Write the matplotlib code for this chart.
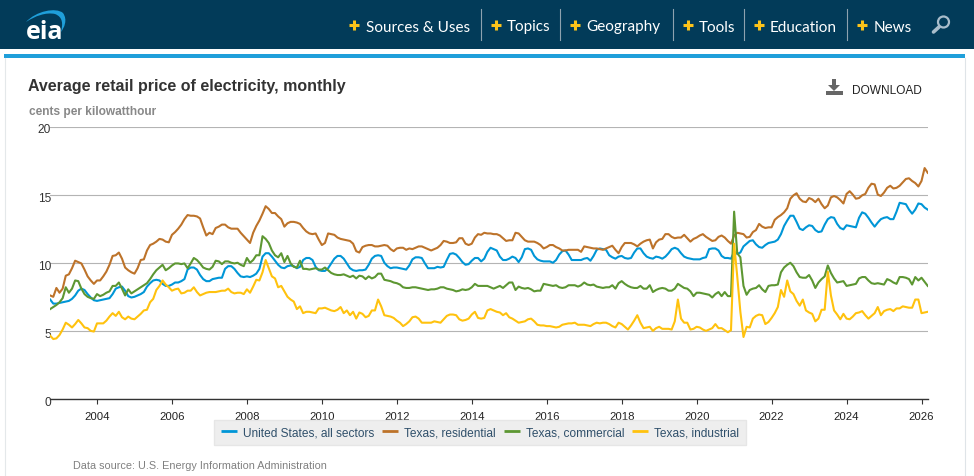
import numpy as np
import matplotlib
matplotlib.use('Agg')
import matplotlib.pyplot as plt
from matplotlib.patches import Rectangle, Polygon, Circle, PathPatch
from matplotlib.path import Path
from matplotlib.transforms import ScaledTranslation

plt.rcParams['font.family'] = ['Liberation Sans', 'DejaVu Sans']

# monthly values, cents per kWh, first point is Oct 2002
FIRST_YEAR = 2002.75

us_all = [
    7.3, 7.0, 7.0,
    7.05, 7.1, 7.15, 7.2, 7.35, 7.6, 7.95, 8.1, 8.0, 7.7, 7.45, 7.25,
    7.2, 7.25, 7.3, 7.35, 7.4, 7.7, 8.1, 8.2, 8.25, 7.95, 7.55, 7.45,
    7.5, 7.6, 7.7, 7.85, 8.25, 8.5, 8.7, 8.75, 8.7, 8.45, 8.3, 8.3,
    8.4, 8.55, 8.55, 8.65, 8.8, 9.5, 9.65, 9.65, 9.5, 9.1, 8.8, 8.65,
    8.65, 8.8, 8.85, 8.9, 8.9, 9.55, 9.75, 9.75, 9.55, 9.25, 9.0, 8.95,
    9.0, 8.95, 9.05, 9.2, 9.55, 10.45, 10.7, 10.7, 10.45, 10.15, 9.85, 9.65,
    9.6, 9.75, 9.8, 9.75, 9.6, 9.7, 10.2, 10.35, 10.35, 10.2, 9.7, 9.45,
    9.4, 9.4, 9.6, 9.95, 10.3, 10.5, 10.5, 10.3, 9.95, 9.6, 9.45, 9.4,
    9.45, 9.45, 9.5, 9.85, 10.3, 10.5, 10.55, 10.5, 10.0, 9.75, 9.6, 9.65,
    9.65, 9.6, 9.55, 9.5, 9.8, 10.25, 10.4, 10.4, 10.35, 9.95, 9.6, 9.6,
    9.6, 9.7, 9.65, 9.7, 10.2, 10.65, 10.7, 10.6, 10.35, 10.05, 9.85, 9.9,
    10.15, 10.35, 10.35, 10.1, 10.3, 10.8, 11.1, 11.0, 10.9, 10.45, 10.2, 10.2,
    10.3, 10.45, 10.35, 10.05, 10.4, 11.0, 11.05, 10.95, 10.5, 10.25, 10.15, 10.1,
    10.1, 10.1, 10.0, 10.2, 10.6, 10.85, 10.9, 10.6, 10.2, 10.2, 10.2, 10.2,
    10.3, 10.35, 10.15, 10.5, 10.95, 11.05, 11.0, 10.95, 10.55, 10.4, 10.3, 10.45,
    10.5, 10.35, 10.3, 10.35, 10.75, 11.05, 11.05, 10.7, 10.45, 10.35, 10.3, 10.45,
    10.4, 10.3, 10.45, 10.7, 11.0, 11.1, 11.0, 10.7, 10.45, 10.35, 10.3, 10.25,
    10.25, 10.25, 10.35, 10.4, 11.0, 11.05, 11.05, 10.9, 10.5, 10.35, 10.35, 10.3,
    10.8, 10.65, 10.75, 11.2, 11.4, 11.6, 11.65, 11.35, 11.15, 11.1, 11.3, 11.45,
    11.5, 11.55, 11.7, 12.1, 12.7, 13.1, 13.45, 13.45, 13.0, 12.5, 12.4, 12.6,
    12.75, 12.7, 12.4, 12.25, 12.3, 12.8, 13.2, 13.35, 13.3, 12.85, 12.55, 12.45,
    12.75, 12.7, 12.65, 12.6, 13.3, 13.7, 13.6, 13.3, 12.95, 12.65, 12.95, 13.2,
    13.3, 13.35, 13.2, 13.2, 13.75, 14.4, 14.35, 14.3, 13.9, 13.6, 13.9, 14.35,
    14.3, 14.05, 13.9,
]

tx_residential = [
    7.6, 7.5, 8.15,
    7.8, 8.1, 9.05, 9.15, 9.6, 10.15, 10.05, 9.95, 9.5, 9.0, 8.7, 8.45,
    8.7, 8.7, 9.0, 9.35, 9.85, 10.5, 10.55, 10.75, 10.3, 9.65, 9.45, 9.3,
    9.2, 9.6, 10.2, 10.25, 10.9, 11.3, 11.4, 11.55, 11.75, 11.7, 11.55, 11.5,
    12.05, 12.25, 12.5, 12.8, 13.2, 13.5, 13.45, 13.45, 13.4, 13.25, 12.6, 12.0,
    12.2, 12.1, 12.55, 12.65, 12.8, 12.8, 12.6, 12.5, 12.5, 12.5, 12.2, 11.95,
    11.7, 11.45, 12.2, 12.7, 13.1, 13.6, 14.15, 13.95, 13.65, 13.65, 13.4, 13.2,
    12.65, 12.9, 13.0, 13.0, 12.95, 12.85, 12.55, 12.3, 12.15, 12.1, 12.15, 11.7,
    11.3, 11.45, 12.15, 12.1, 12.05, 11.85, 11.75, 11.7, 11.65, 11.6, 11.4, 10.85,
    10.75, 11.15, 11.25, 11.3, 11.3, 11.2, 11.2, 11.25, 11.3, 11.25, 11.0, 10.85,
    11.05, 11.1, 11.1, 10.95, 11.05, 11.0, 11.1, 11.2, 11.2, 11.1, 11.0, 10.9,
    11.0, 11.1, 11.3, 11.6, 11.55, 11.45, 11.45, 11.5, 11.8, 11.8, 11.4, 11.3,
    11.4, 11.85, 12.1, 12.05, 12.2, 12.15, 12.15, 12.1, 12.1, 12.0, 11.8, 11.6,
    11.65, 11.65, 12.2, 12.15, 11.9, 11.65, 11.55, 11.55, 11.55, 11.45, 11.3, 11.05,
    11.15, 11.3, 11.3, 11.15, 11.05, 10.9, 10.9, 10.95, 10.95, 10.95, 10.95, 10.8,
    11.2, 11.15, 11.1, 11.05, 11.05, 11.0, 10.95, 11.05, 11.15, 11.25, 10.95, 10.7,
    11.15, 11.45, 11.45, 11.45, 11.35, 11.2, 11.4, 11.55, 11.65, 11.7, 11.05, 11.5,
    11.7, 11.75, 12.1, 12.1, 11.9, 11.8, 11.85, 11.85, 12.05, 11.8, 11.55, 11.75,
    11.85, 12.0, 12.1, 11.9, 11.75, 11.6, 11.65, 11.9, 12.0, 11.85, 11.6, 11.4,
    12.0, 12.2, 12.15, 12.1, 11.85, 11.9, 12.25, 12.4, 12.85, 12.65, 12.55, 12.6,
    12.6, 13.15, 13.35, 13.5, 13.7, 14.0, 14.7, 14.95, 15.1, 14.7, 14.5, 14.45,
    14.75, 14.65, 14.45, 14.7, 14.3, 14.0, 14.2, 14.8, 14.9, 14.8, 14.6, 14.35,
    15.05, 15.25, 15.0, 14.7, 14.75, 14.95, 15.05, 15.5, 15.8, 15.75, 15.0, 14.9,
    15.15, 15.5, 15.65, 15.45, 15.5, 15.65, 15.9, 16.15, 16.2, 16.0, 15.85, 15.6,
    16.0, 16.95, 16.6,
]

tx_commercial = [
    6.6, 6.75, 6.9,
    7.1, 7.4, 8.2, 7.8, 8.1, 8.7, 8.65, 8.1, 7.7, 7.5, 7.4, 7.35,
    7.7, 7.55, 7.65, 7.8, 7.9, 8.3, 8.3, 8.55, 8.1, 7.6, 8.05, 7.75,
    7.9, 8.05, 8.2, 8.35, 8.5, 8.8, 9.15, 9.45, 9.65, 9.85, 9.45, 9.6,
    9.8, 9.95, 9.95, 9.9, 9.95, 9.6, 9.95, 10.35, 10.2, 9.95, 9.65, 9.55,
    9.5, 9.7, 10.15, 10.1, 9.9, 10.1, 10.1, 10.0, 9.95, 10.0, 9.85, 9.75,
    10.35, 10.0, 10.2, 10.55, 10.55, 11.95, 11.75, 11.45, 10.9, 10.55, 10.4, 10.7,
    10.05, 10.5, 9.95, 9.7, 9.65, 10.15, 9.55, 9.55, 9.5, 9.55, 9.6, 9.5,
    9.5, 9.65, 9.45, 9.25, 9.15, 9.1, 9.1, 9.15, 9.05, 8.95, 9.05, 8.85,
    9.05, 9.0, 8.8, 9.0, 8.85, 8.95, 9.2, 9.2, 8.75, 8.7, 8.65, 8.55,
    8.5, 8.4, 8.2, 8.15, 8.15, 8.2, 8.2, 8.15, 8.1, 8.05, 8.0, 8.05,
    8.05, 8.1, 8.2, 8.2, 8.1, 8.05, 8.0, 7.9, 7.95, 8.05, 8.0, 8.05,
    8.2, 8.45, 8.3, 8.3, 8.3, 8.3, 8.2, 8.1, 8.2, 8.3, 8.15, 8.35,
    8.55, 8.55, 8.0, 8.25, 8.15, 8.1, 8.15, 8.05, 7.9, 7.95, 7.95, 8.45,
    8.4, 8.35, 8.3, 8.35, 8.2, 8.15, 8.2, 8.35, 8.35, 8.35, 8.25, 8.35,
    8.55, 8.4, 8.35, 8.4, 8.25, 8.2, 8.15, 8.2, 8.2, 8.35, 8.1, 8.5,
    8.65, 8.45, 8.3, 8.2, 8.15, 8.15, 8.3, 8.1, 8.1, 8.35, 7.85, 8.0,
    8.1, 8.15, 8.1, 7.95, 7.95, 8.1, 8.45, 8.3, 8.15, 8.1, 7.9, 7.55,
    7.8, 7.8, 7.75, 7.7, 7.65, 7.45, 7.7, 7.85, 7.55, 7.85, 7.55, 7.55,
    13.75, 10.7, 10.4, 8.3, 7.65, 8.0, 8.1, 8.15, 8.35, 8.05, 7.85, 8.3,
    8.35, 8.35, 8.4, 9.3, 9.65, 9.85, 10.0, 9.75, 9.3, 8.95, 8.9, 8.9,
    9.1, 8.7, 8.15, 8.55, 8.8, 9.0, 9.8, 9.25, 8.85, 8.55, 8.6, 8.65,
    8.3, 8.35, 8.4, 8.45, 8.85, 8.95, 8.95, 8.7, 8.5, 8.45, 8.5, 8.45,
    8.4, 8.8, 8.7, 8.55, 8.45, 8.95, 8.95, 8.9, 8.8, 8.4, 8.95, 8.7,
    8.9, 8.6, 8.3,
]

tx_industrial = [
    4.65, 4.4, 4.45,
    4.7, 5.1, 5.6, 5.45, 5.25, 5.5, 5.8, 5.55, 5.25, 5.2, 5.0, 4.95,
    5.55, 5.55, 5.55, 5.75, 6.05, 6.3, 6.1, 6.4, 6.0, 5.85, 6.05, 5.9,
    5.85, 6.05, 6.25, 6.5, 6.55, 7.1, 7.35, 8.0, 8.3, 8.7, 8.4, 8.2,
    7.95, 8.05, 8.1, 7.75, 7.8, 7.95, 7.95, 8.2, 7.85, 7.6, 7.7, 7.8,
    7.85, 7.85, 7.85, 7.9, 7.95, 7.95, 8.1, 7.85, 7.75, 7.8, 7.8, 7.7,
    8.05, 7.8, 8.25, 8.75, 8.7, 9.3, 10.2, 9.6, 9.0, 8.85, 8.2, 8.3,
    7.9, 7.5, 7.3, 7.15, 6.6, 6.8, 6.3, 6.4, 6.4, 6.35, 6.3, 6.65,
    6.65, 6.7, 6.6, 6.5, 6.45, 6.55, 6.75, 6.3, 6.5, 6.15, 6.4, 5.9,
    6.35, 6.25, 6.0, 6.1, 6.5, 6.5, 7.3, 6.8, 6.15, 6.1, 6.05, 5.95,
    5.75, 5.6, 5.35, 5.5, 5.7, 6.0, 6.05, 5.9, 5.6, 5.6, 5.6, 5.6,
    5.7, 5.65, 5.6, 5.85, 6.1, 6.2, 6.2, 6.15, 5.85, 5.75, 5.8, 5.9,
    6.2, 6.4, 5.95, 5.9, 5.95, 6.5, 6.6, 6.5, 6.4, 6.35, 6.15, 6.3,
    6.0, 5.9, 5.75, 5.6, 5.65, 5.7, 5.85, 5.9, 5.7, 5.45, 5.4, 5.4,
    5.35, 5.35, 5.3, 5.25, 5.3, 5.45, 5.5, 5.55, 5.55, 5.6, 5.45, 5.45,
    5.45, 5.4, 5.35, 5.5, 5.6, 5.55, 5.6, 5.6, 5.5, 5.35, 5.25, 5.6,
    5.5, 5.3, 5.1, 5.4, 5.75, 6.15, 5.6, 5.2, 5.25, 5.3, 5.0, 5.2,
    5.3, 5.15, 5.15, 5.15, 5.1, 5.7, 7.3, 5.9, 5.6, 5.6, 5.1, 5.15,
    5.3, 5.25, 5.1, 5.0, 5.1, 5.2, 5.5, 5.2, 5.2, 5.05, 4.9, 5.05,
    11.4, 9.0, 6.4, 4.55, 5.3, 5.25, 5.9, 6.1, 6.2, 6.15, 5.5, 5.65,
    5.95, 6.3, 6.75, 8.0, 7.5, 8.7, 7.9, 7.7, 7.2, 6.85, 7.3, 6.5,
    6.35, 6.25, 5.7, 5.9, 6.55, 6.55, 9.35, 7.6, 6.5, 6.2, 5.85, 6.25,
    5.9, 5.85, 6.05, 6.3, 6.35, 6.45, 6.15, 5.9, 6.1, 6.3, 6.75, 6.15,
    6.45, 6.55, 6.6, 6.45, 6.65, 6.65, 6.8, 6.75, 6.7, 6.7, 7.3, 7.3,
    6.3, 6.35, 6.4,
]

series_names = ['United States, all sectors', 'Texas, residential',
                'Texas, commercial', 'Texas, industrial']
series_colors = ['#0096d7', '#bd732a', '#5d9732', '#ffc20e']
year_ticks = list(range(2004, 2027, 2))
price_ticks = [0, 5, 10, 15, 20]
menu_items = ['Sources & Uses', 'Topics', 'Geography', 'Tools', 'Education', 'News']
menu_text_x = [366, 507, 586, 699, 770, 874]
menu_plus_x = [354, 496, 575, 688, 759, 862]
menu_sep_x = [480.5, 559.5, 672.5, 743.5, 846.5]

W, H = 974, 477
fig = plt.figure(figsize=(W / 100, H / 100), dpi=100, facecolor='white')

# page furniture, drawn in pixel coordinates
page = fig.add_axes([0, 0, 1, 1], zorder=0)
page.set_xlim(0, W)
page.set_ylim(H, 0)
page.axis('off')

page.add_patch(Rectangle((0, 0), W, 50, color='#023b59', lw=0))
page.add_patch(Rectangle((4, 55), 961, 4, color='#1f9fda', lw=0))
page.plot([4.5, 4.5], [59, H], color='#e4e8ea', lw=0.8)
page.plot([964.5, 964.5], [59, H], color='#dfe4e8', lw=0.8)

swoosh = Path([(26, 23), (36, 12), (56, 8), (63, 14), (68, 21), (64, 29), (61, 33),
               (63, 25), (63, 18), (55, 15), (46, 13), (35, 17), (26, 23)],
              [Path.MOVETO, Path.CURVE4, Path.CURVE4, Path.CURVE4, Path.CURVE4, Path.CURVE4,
               Path.CURVE4, Path.CURVE4, Path.CURVE4, Path.CURVE4, Path.CURVE4, Path.CURVE4,
               Path.CURVE4])
page.add_patch(PathPatch(swoosh, facecolor='#1f9fda', edgecolor='none'))
page.text(25.5, 39, 'eia', color='white', fontsize=18, fontweight='bold',
          family='Open Sans', va='baseline')

for name, tx, px in zip(menu_items, menu_text_x, menu_plus_x):
    page.text(tx, 27.5, name, color='white', fontsize=11.0, family='Lato', va='center')
    page.plot(px, 26, marker='+', ms=7.2, mew=2.2, color='#fdc31a')
for sx in menu_sep_x:
    page.plot([sx, sx], [10, 41], color='#8ea2af', lw=0.8)

page.add_patch(Circle((943.5, 23), 5.5, fill=False, ec='#a9bdcb', lw=1.6))
page.plot([939, 933.5], [28, 33], color='#a9bdcb', lw=2.6, solid_capstyle='round')

page.text(28, 87, 'Average retail price of electricity, monthly', fontsize=11.5,
          fontweight='bold', color='#333333', va='center')
page.text(29, 112, 'cents per kilowatthour', fontsize=8.6, fontweight='bold',
          color='#888888', va='center')
page.text(852, 91, 'DOWNLOAD', fontsize=8.6, color='#222222', va='center')
page.add_patch(Polygon([(832, 80), (836, 80), (836, 86), (840, 86), (834, 92), (828, 86), (832, 86)],
                       color='#666666', lw=0))
page.add_patch(Rectangle((826, 92), 17, 4, color='#666666', lw=0))
page.text(73, 466, 'Data source: U.S. Energy Information Administration', fontsize=7.8,
          color='#808080', va='center')

# chart
left, right = 50, 928
top, bottom = 127.5, 400
ax = fig.add_axes([left / W, 1 - bottom / H, (right - left) / W, (bottom - top) / H], zorder=1)
ax.patch.set_alpha(0)

months = FIRST_YEAR + np.arange(len(us_all)) / 12
for values, name, color in zip([us_all, tx_residential, tx_commercial, tx_industrial],
                               series_names, series_colors):
    ax.plot(months, values, color=color, lw=1.5, label=name, solid_joinstyle='round')

px_per_year = (921.5 - 97) / 22
ax.set_xlim(2004 - (97 - left) / px_per_year, 2004 + (right - 97) / px_per_year)
ax.set_ylim(0, 20)
ax.set_xticks(year_ticks)
ax.set_yticks(price_ticks)
ax.grid(axis='y', color='#b4b4b4', lw=0.8)
ax.set_axisbelow(True)
for side in ['top', 'left', 'right']:
    ax.spines[side].set_visible(False)
ax.spines['bottom'].set_color('#333333')
ax.spines['bottom'].set_linewidth(1)
ax.tick_params(axis='x', length=3.5, width=0.8, color='#333333', labelsize=8.2,
               labelcolor='#222222', pad=4.8)
ax.tick_params(axis='y', length=0, labelsize=8.6, labelcolor='#333333', pad=0)
nudge = ScaledTranslation(0.8 / 100, -1.5 / 100, fig.dpi_scale_trans)
for label in ax.get_yticklabels():
    label.set_transform(label.get_transform() + nudge)

leg = ax.legend(loc='center', bbox_to_anchor=(480 / W, 1 - 433.5 / H),
                bbox_transform=fig.transFigure, ncols=4, fontsize=8.6, frameon=True,
                fancybox=False, facecolor='#eeeeee', edgecolor='#e6e6e6', framealpha=1,
                handlelength=1.35, handletextpad=0.5, columnspacing=0.65,
                borderpad=0.55, labelcolor='#2f4f6a')
for handle in leg.get_lines():
    handle.set_linewidth(2)
    handle.set_solid_capstyle('butt')

fig.savefig('out.png', dpi=100)
